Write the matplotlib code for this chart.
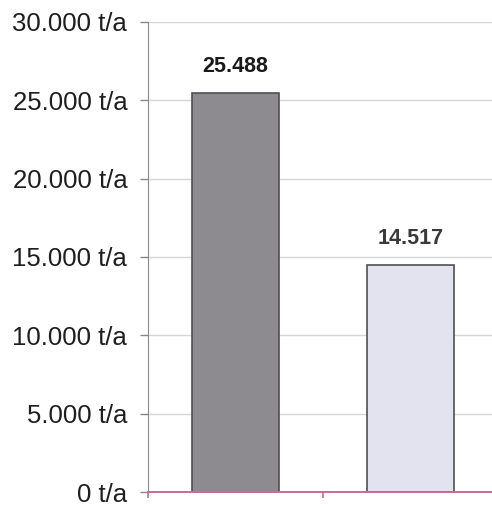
import matplotlib
matplotlib.use("Agg")
from matplotlib import pyplot as plt
from matplotlib.ticker import FuncFormatter

# annual quantities, tonnes per year
categories = ["A", "B"]
values = [25488, 14517]
bar_colors = ["#8d8a90", "#e3e3ef"]
label_colors = ["#1a1a1a", "#3a3a3a"]
y_ticks = [0, 5000, 10000, 15000, 20000, 25000, 30000]

plt.rcParams['font.family'] = ['Liberation Sans', 'DejaVu Sans']


def de_thousands(v, pos=None):
    return f"{int(v):,} t/a".replace(",", ".")


fig = plt.figure(figsize=(4.92, 5.05), dpi=100)
# plot area runs slightly past the right edge of the figure
ax = fig.add_axes([148 / 492, 13 / 505, 350 / 492, 470 / 505])

x = list(range(len(categories)))
ax.bar(x, values, width=0.5, color=bar_colors, edgecolor="#505050",
       linewidth=1.2, zorder=3)
for xi, v, c in zip(x, values, label_colors):
    ax.text(xi, v + 1000, de_thousands(v).replace(" t/a", ""), ha="center",
            va="bottom", fontsize=15.5, fontweight="bold", color=c)

ax.set_xlim(-0.5, 1.5)
ax.set_ylim(0, 30000)
ax.set_yticks(y_ticks)
ax.yaxis.set_major_formatter(FuncFormatter(de_thousands))
ax.set_xticks([-0.5, 0.5])
ax.set_xticklabels([])
ax.tick_params(axis="y", labelsize=18.5, colors="#888888", labelcolor="#1e1e1e",
               length=6, width=1, pad=9)
ax.tick_params(axis="x", colors="#c86a9c", length=4, width=1.2)
ax.grid(axis="y", color="#d6d6d6", linewidth=1, zorder=0)

for side in ["top", "right"]:
    ax.spines[side].set_visible(False)
ax.spines["left"].set_color("#8a8a8a")
ax.spines["bottom"].set_color("#c86a9c")
ax.spines["bottom"].set_linewidth(1.4)
ax.spines["bottom"].set_zorder(4)

fig.savefig("out.png", dpi=100)
